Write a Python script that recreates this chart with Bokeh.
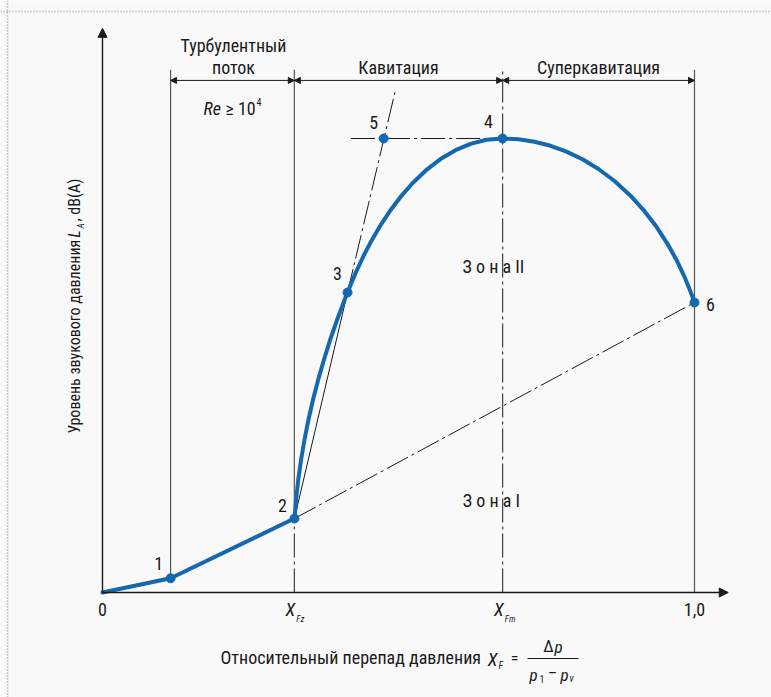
import math
from bokeh.plotting import figure
from bokeh.models import Range1d, Arrow, NormalHead, Span, ColumnDataSource
from bokeh.core.properties import value
from bokeh.embed import file_html
from bokeh.resources import INLINE

# ---------------- data ----------------
X_1 = 0.115
X_FZ = 0.324
X_FM = 0.676
X_END = 1.0
tick_x = [0.0, X_FZ, X_FM, X_END]
tick_main = ["0", "X", "X", "1,0"]
tick_sub = ["", "Fz", "Fm", ""]

# turbulent part 0-1-2
turb_x = [0.0, 0.115, 0.324]
turb_y = [0.0, 0.024, 0.125]

# cavitation / supercavitation curve 2-3-4-6
curve_x = [0.3243, 0.3272, 0.3309, 0.3358, 0.3416, 0.3483, 0.3561, 0.3649, 0.3747,
           0.3853, 0.3971, 0.4098, 0.4139,
           0.4274, 0.4409, 0.4544, 0.4696, 0.4865, 0.5034, 0.5236, 0.5456, 0.5709,
           0.5963, 0.6216, 0.6486, 0.6757,
           0.7027, 0.7297, 0.7568, 0.7838, 0.8108, 0.8378, 0.8649, 0.8919, 0.9155,
           0.9358, 0.9544, 0.9696, 0.9831, 0.9932, 1.0]
curve_y = [0.1250, 0.1588, 0.1926, 0.2264, 0.2601, 0.2939, 0.3277, 0.3615, 0.3953,
           0.4291, 0.4628, 0.4966, 0.5068,
           0.5395, 0.5684, 0.5943, 0.6203, 0.6458, 0.6682, 0.6914, 0.7125, 0.7321,
           0.7471, 0.7578, 0.7647, 0.7669,
           0.7655, 0.7615, 0.7546, 0.7448, 0.7318, 0.7154, 0.6951, 0.6703, 0.6441,
           0.6177, 0.5890, 0.5617, 0.5333, 0.5084, 0.4899]

# marked points
pt_x = [0.115, 0.3243, 0.4139, 0.6757, 0.475, 1.0]
pt_y = [0.024, 0.125, 0.5068, 0.7669, 0.7669, 0.4899]
pt_lab = ["1", "2", "3", "4", "5", "6"]
pt_dx = [-12, -12, -10, -14, -10, 16]
pt_dy = [-15, -13, -19, -17, -16, 2]

tan_top = (0.494, 0.845)
level_left = 0.420
dim_y = 0.865
vert_top = 0.883
y_arrow_top = 0.953
x_arrow_end = 1.057

BLUE = "#1468b0"
INK = "#1a1a1a"
GREY = "#555555"
BG = "#f9f9f9"
FONT = "Liberation Sans Narrow, Roboto Condensed, DejaVu Sans Condensed, sans-serif"
DASHDOT = "24 4 3 4"

S = 592.0
OX, OY = 102.0, 592.0
W, H = 771, 697


def X(px):
    return (px - OX) / S


def Y(py):
    return (OY - py) / S


p = figure(width=W, height=H,
           x_range=Range1d(X(0), X(W)), y_range=Range1d(Y(H), Y(0)),
           output_backend="svg", toolbar_location=None,
           x_axis_type=None, y_axis_type=None, min_border=0,
           background_fill_color=BG, border_fill_color=BG,
           outline_line_color=None)
p.grid.visible = False

# dotted frame (top and left visible)
p.add_layout(Span(location=X(7), dimension="height", line_color="#9a9a9a",
                  line_dash="1 2", line_width=1.5))
p.add_layout(Span(location=Y(11), dimension="width", line_color="#9a9a9a",
                  line_dash="1 2", line_width=1.5))

# axes with arrows
p.add_layout(Arrow(end=NormalHead(size=9, fill_color=INK, line_color=INK),
                   x_start=0, y_start=0, x_end=0, y_end=y_arrow_top,
                   line_color=INK, line_width=1.4))
p.add_layout(Arrow(end=NormalHead(size=9, fill_color=INK, line_color=INK),
                   x_start=0, y_start=0, x_end=x_arrow_end, y_end=0,
                   line_color=INK, line_width=1.4))

# region verticals
p.segment(x0=[X_1], y0=[turb_y[1]], x1=[X_1], y1=[vert_top], line_color=GREY, line_width=1.2)
p.segment(x0=[X_FZ], y0=[turb_y[2]], x1=[X_FZ], y1=[vert_top], line_color=GREY, line_width=1.2)
p.segment(x0=[X_FZ], y0=[0], x1=[X_FZ], y1=[turb_y[2]], line_color=INK, line_width=1.0, line_dash=DASHDOT)
p.segment(x0=[X_END], y0=[0], x1=[X_END], y1=[vert_top], line_color=GREY, line_width=1.2)
p.segment(x0=[X_FM], y0=[0], x1=[X_FM], y1=[vert_top], line_color=INK, line_width=1.0, line_dash=DASHDOT)

# dimension arrows
for a, b in [(X_1, X_FZ), (X_FZ, X_FM), (X_FM, X_END)]:
    p.add_layout(Arrow(start=NormalHead(size=6, fill_color=INK, line_color=INK),
                       end=NormalHead(size=6, fill_color=INK, line_color=INK),
                       x_start=a, y_start=dim_y, x_end=b, y_end=dim_y,
                       line_color=INK, line_width=1.0))

# construction lines
p.line([pt_x[1], pt_x[2]], [pt_y[1], pt_y[2]], line_color=INK, line_width=1.0)
p.line([pt_x[2], tan_top[0]], [pt_y[2], tan_top[1]], line_color=INK, line_width=1.0, line_dash=DASHDOT)
p.line([level_left, pt_x[3]], [pt_y[4], pt_y[3]], line_color=INK, line_width=1.0, line_dash=DASHDOT)
p.line([pt_x[1], pt_x[5]], [pt_y[1], pt_y[5]], line_color=INK, line_width=1.0, line_dash=DASHDOT)

# main curve
p.line(turb_x, turb_y, line_color=BLUE, line_width=4, line_join="round", line_cap="round")
p.line(curve_x, curve_y, line_color=BLUE, line_width=4, line_join="round", line_cap="round")

src = ColumnDataSource(dict(x=pt_x, y=pt_y, t=pt_lab, dx=pt_dx, dy=pt_dy))
p.scatter("x", "y", source=src, size=9, color=BLUE)
p.text("x", "y", text="t", x_offset="dx", y_offset="dy", source=src,
       text_font=value(FONT), text_font_size="18px", text_color=INK,
       text_align="center", text_baseline="middle")


def T(xp, yp, s, size=17, italic=False, align="center", baseline="middle", angle=0.0):
    p.text(x=[X(xp)], y=[Y(yp)], text=[s], text_font=value(FONT),
           text_font_size=f"{size}px",
           text_font_style="italic" if italic else "normal",
           text_align=align, text_baseline=baseline, angle=angle, text_color=INK)


# region titles
T(233, 45, "Турбулентный", 18)
T(233, 67, "поток", 18)
T(398, 67, "Кавитация", 18)
T(598, 67, "Суперкавитация", 18)
T(203, 108, "Re", 18, italic=True, align="left")
T(225, 108, "≥ 10", 18, align="left")
T(256, 101, "4", 10, align="left")

# zones
T(495, 266, "З о н а  II", 18)
T(493, 500, "З о н а  I", 18)

# tick labels
p.text(x=[tick_x[0], tick_x[3]], y=[Y(609)] * 2, text=[tick_main[0], tick_main[3]],
       text_font=value(FONT), text_font_size="18px", text_color=INK,
       text_align="center", text_baseline="middle")
p.text(x=[tick_x[1], tick_x[2]], y=[Y(609)] * 2, text=[tick_main[1], tick_main[2]],
       x_offset=-4, text_font=value(FONT), text_font_size="18px", text_font_style="italic",
       text_color=INK, text_align="center", text_baseline="middle")
p.text(x=[tick_x[1], tick_x[2]], y=[Y(618)] * 2, text=[tick_sub[1], tick_sub[2]],
       x_offset=2, text_font=value(FONT), text_font_size="9px", text_font_style="italic",
       text_color=INK, text_align="left", text_baseline="middle")

# x axis title
T(220, 657, "Относительный перепад давления", 18, align="left")
T(492, 659, "X", 18, italic=True)
T(498, 665, "F", 10, italic=True, align="left")
T(514, 658, "=", 16)
p.segment(x0=[X(527)], y0=[Y(658)], x1=[X(578)], y1=[Y(658)], line_color=INK, line_width=1.0)
T(548, 645, "Δ", 17)
T(558, 646, "p", 17, italic=True)
T(533, 674, "p", 17, italic=True)
T(539, 678, "1", 10, align="left")
T(552, 673, "–", 16)
T(564, 674, "p", 17, italic=True)
T(569, 678, "v", 10, italic=True, align="left")

# y axis title (rotated)
T(74, 433, "Уровень звукового давления", 16, align="left", angle=math.pi / 2)
T(74, 237, "L", 16, italic=True, align="left", angle=math.pi / 2)
T(80, 228, "A", 9, italic=True, align="left", angle=math.pi / 2)
T(74, 221, ", dB(A)", 16, align="left", angle=math.pi / 2)

open("out.html", "w").write(file_html(p, INLINE))
